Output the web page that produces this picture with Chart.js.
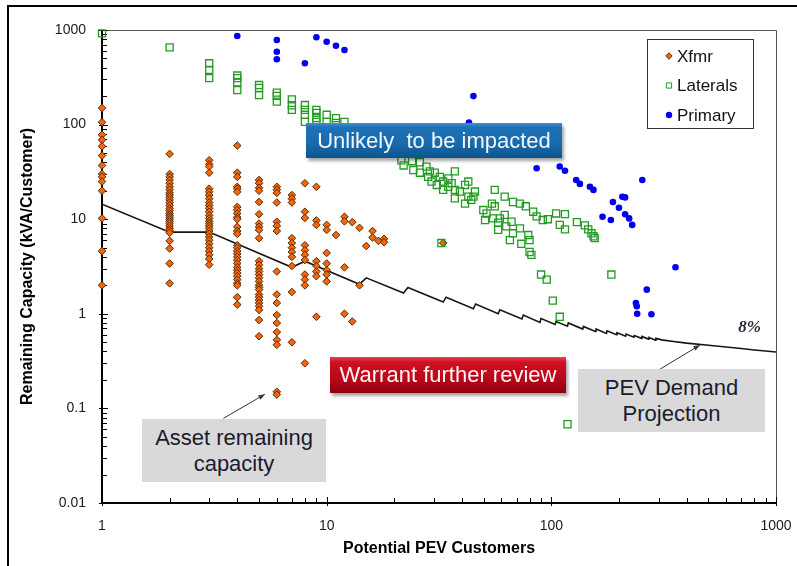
<!DOCTYPE html>
<html>
<head>
<meta charset="utf-8">
<script src="https://cdn.jsdelivr.net/npm/chart.js@4.4.1/dist/chart.umd.min.js"></script>
<style>
  body { margin: 0; background: #fff; }
  #wrap { position: relative; width: 797px; height: 566px; overflow: hidden; font-family: "Liberation Sans", Arial, sans-serif; }
  #frame { position: absolute; left: 7px; top: 5px; width: 820px; height: 600px; border-left: 2px solid #000; border-top: 2px solid #000; }
  .box { position: absolute; display: flex; align-items: center; justify-content: center; text-align: center; font-size: 22px; line-height: 26px; box-sizing: border-box; }
  .blue { left: 306px; top: 123px; width: 256px; height: 35px; color: #f2f6fa; white-space: pre;
          background: linear-gradient(#3f93d3 0%, #1f72b6 12%, #176aac 60%, #0d5490 100%);
          box-shadow: 2px 3px 3px rgba(0,0,0,0.35); }
  .red { left: 330px; top: 357px; width: 236px; height: 36px; color: #fff5f5;
         background: linear-gradient(#ec4450 0%, #cf1022 14%, #b8091a 60%, #8c0012 100%);
         box-shadow: 2px 3px 3px rgba(0,0,0,0.35); }
  .gray { background: #d9d9d9; color: #1b1b2e; }
  .asset { left: 142px; top: 419px; width: 184px; height: 63px; }
  .pev { left: 578px; top: 369px; width: 187px; height: 63px; }
</style>
</head>
<body>
<div id="wrap">
  <canvas id="capacity" width="797" height="566"></canvas>
  <div id="frame"></div>
  <div class="box blue">Unlikely  to be impacted</div>
  <div class="box red">Warrant further review</div>
  <div class="box gray asset">Asset remaining<br>capacity</div>
  <div class="box gray pev">PEV Demand<br>Projection</div>
</div>
<script>
// transformer columns: customers and remaining capacity values read per column
const xfmrN = [1, 2, 3, 4, 5, 6, 7, 8, 9, 10, 11, 12, 13, 14, 15, 16, 17, 18, 33];
const xfmrCap = [
  [150, 106, 78, 69, 59, 47, 37, 30, 28, 25, 20, 10.2, 4.6, 2.0],
  [49, 30, 28, 26, 24, 22, 20.5, 19, 18, 17, 16, 15, 14, 13, 12.3, 11.5, 11, 10.5, 10, 9.5, 9, 8.5, 8, 7.6, 7.2, 5.9, 4.9, 3.4, 2.1],
  [42, 38, 36, 31, 21, 19.5, 18, 16.5, 15, 14, 13, 12, 11, 10.2, 9.5, 9, 8.5, 8, 7.5, 7, 6.5, 6, 5.5, 5, 4.6, 4.2, 3.8, 3.3],
  [60, 31, 28, 22, 21, 19.5, 13.5, 12.5, 11.5, 10.5, 10, 8.3, 7.5, 7, 5.3, 5, 4.6, 4.3, 4, 3.7, 3.4, 3.1, 2.9, 2.7, 2.5, 2.3, 2.1, 2.0, 1.5, 1.25],
  [26, 24, 21.5, 20, 15.2, 11.3, 9, 8.3, 7.7, 6.3, 3.6, 3.3, 3.0, 2.8, 2.6, 2.4, 2.2, 2.0, 1.9, 1.8, 1.6, 1.5, 1.4, 1.3, 1.2, 1.1, 0.86, 0.58],
  [22, 20.5, 19, 15, 9.4, 8.5, 7.5, 2.8, 1.6, 1.3, 0.97, 0.8, 0.64, 0.53, 0.47, 0.15, 0.14],
  [18, 16.5, 15, 6.3, 5.6, 5, 4.5, 4, 3.2, 1.7, 0.5],
  [24, 12, 10.3, 5.3, 4.7, 4.2, 3.7, 2.6, 2.3, 2.0, 0.3],
  [22, 9.7, 8.7, 3.6, 3.2, 2.8, 2.5, 0.93],
  [8.7, 7.7, 4.4, 3.4, 2.9, 2.6, 2.2],
  [6.8],
  [10.6, 9.5, 3.1, 1.0],
  [9.3, 0.83],
  [8.1, 2.0],
  [5.2],
  [7.5, 6.4],
  [5.9],
  [6.2, 5.7],
  [5.6]
];

const lateralN = [1, 2, 3, 3, 3, 4, 4, 4, 4, 5, 5, 5, 6, 6, 6, 7, 7, 7, 8, 8, 8, 8, 9, 9, 9, 9, 10, 10, 11, 11, 12,
  21.5, 22, 24, 24.3, 26, 26, 27.8, 28.3, 28.8, 29.3, 30.3, 30.9, 31.9, 33, 33, 34.8, 34.8, 36, 37.2, 37.2, 37.2, 39.2,
  41.3, 41.3, 42.7, 42.7, 44, 45.7, 45, 32.4,
  49.8, 50.7, 51.5, 54.4, 55, 56, 56, 58, 59, 58, 62, 62, 63, 65.4, 66.5, 67.5, 67.5, 72.5, 72.5, 73.5, 77, 79, 80, 80,
  81.5, 83, 86, 91.6, 96.5, 105, 109, 115, 115, 130, 141, 146, 151, 154, 156,
  90, 95.4, 101.5, 109, 185, 118];
const lateralCap = [920, 656, 445, 378, 310, 330, 310, 280, 232, 262, 244, 205, 218, 201, 175, 185, 160, 143, 161, 143, 127, 107, 143, 133, 117, 107, 127, 107, 117, 104, 107,
  42, 37, 41, 33, 40, 31, 36, 28, 32, 25, 31, 23, 28, 25, 20.4, 27, 22, 24, 32, 20.4, 16.6, 19.6,
  23, 14.6, 25, 17.3, 16, 19.6, 17.3, 5.6,
  12.5, 9.8, 11.5, 14.6, 10.2, 20.4, 13.7, 9.2, 10.2, 7.7, 17.3, 11.1, 8.4, 6.0, 9.4, 15.2, 7.1, 14.6, 8.0, 5.5, 13.7, 6.8, 6.0, 4.5,
  4.2, 12, 10.7, 9.8, 10, 11.5, 8.7, 11.3, 7.8, 9.3, 8.6, 7.8, 7.1, 6.6, 6.3,
  2.6, 2.3, 1.38, 0.93, 2.6, 0.068];

const primaryN = [4, 6, 6, 6, 8, 9, 10, 11, 12, 45, 43, 86, 109, 115, 129, 134, 148.5, 154, 188, 207, 213, 200, 169, 184,
  213, 222, 229, 254, 357, 266, 238, 240, 241, 279];
const primaryCap = [865, 783, 590, 490, 445, 837, 750, 682, 615, 200, 105, 34.5, 36, 32.5, 26, 23.6, 22, 20.4, 15.2, 17.3, 17, 13.2, 10.6, 9.8,
  11.3, 10.2, 8.7, 26, 3.1, 1.8, 1.3, 1.2, 1.0, 0.99];

// PEV demand projection (8%), vertices of the saw-tooth curve
const pevN = [1, 2, 3, 7, 8, 14, 15, 22, 23, 33, 34, 45, 46, 58, 59, 74, 75, 89, 90, 104, 105, 118, 119, 138, 139,
  157, 158, 176, 177, 195, 196, 214, 215, 233, 234, 252, 253, 271, 272, 291, 292, 310, 350, 400, 500, 600, 700, 800, 900, 1000];
const pevCap = [14.4, 7.3, 7.3, 3.1, 3.6, 2.05, 2.4, 1.66, 1.9, 1.33, 1.5, 1.13, 1.27, 1.0, 1.1, 0.88, 0.97, 0.81, 0.89, 0.77, 0.83, 0.74, 0.80, 0.69, 0.735,
  0.65, 0.69, 0.62, 0.66, 0.60, 0.63, 0.58, 0.61, 0.565, 0.59, 0.55, 0.575, 0.54, 0.563, 0.527, 0.55, 0.53, 0.51, 0.49, 0.465, 0.445, 0.43, 0.415, 0.404, 0.394];

const xLabels = [1, 10, 100, 1000];
const yLabels = [0.01, 0.1, 1, 10, 100, 1000];
const minorSteps = [2, 3, 4, 5, 6, 7, 8, 9];

const font = '"Liberation Sans", Arial, sans-serif';
Chart.defaults.font.family = font;

const xfmrPoints = [];
xfmrN.forEach((n, i) => xfmrCap[i].forEach(v => xfmrPoints.push({x: n, y: v})));
const toPoints = (xs, ys) => xs.map((v, i) => ({x: v, y: ys[i]}));

// axes frame with inward tick marks
const axisFrame = {
  id: 'axisFrame',
  beforeDatasetsDraw(chart) {
    const {ctx, chartArea: a, scales: {x, y}} = chart;
    ctx.save();
    ctx.strokeStyle = '#555';
    ctx.lineWidth = 1;
    ctx.beginPath();
    ctx.moveTo(a.left, a.top + 0.5);
    ctx.lineTo(a.right + 0.5, a.top + 0.5);
    ctx.lineTo(a.right + 0.5, a.bottom);
    ctx.stroke();

    ctx.strokeStyle = '#000';
    ctx.lineWidth = 1;
    ctx.beginPath();
    yLabels.forEach(d => {
      const py = Math.round(y.getPixelForValue(d)) + 0.5;
      ctx.moveTo(a.left - 3, py); ctx.lineTo(a.left + 6, py);
      if (d < 1000) minorSteps.forEach(m => {
        const p = Math.round(y.getPixelForValue(d * m)) + 0.5;
        ctx.moveTo(a.left, p); ctx.lineTo(a.left + 5, p);
      });
    });
    xLabels.forEach(d => {
      const px = Math.round(x.getPixelForValue(d)) + 0.5;
      ctx.moveTo(px, a.bottom + 3); ctx.lineTo(px, a.bottom - 6);
      if (d < 1000) minorSteps.forEach(m => {
        const p = Math.round(x.getPixelForValue(d * m)) + 0.5;
        ctx.moveTo(p, a.bottom); ctx.lineTo(p, a.bottom - 5);
      });
    });
    ctx.stroke();

    ctx.lineWidth = 2;
    ctx.beginPath();
    ctx.moveTo(a.left, a.top);
    ctx.lineTo(a.left, a.bottom);
    ctx.lineTo(a.right + 1, a.bottom);
    ctx.stroke();
    ctx.restore();
  }
};

function drawMarker(ctx, style, cx, cy, r, fill, stroke, lw) {
  ctx.beginPath();
  if (style === 'rectRot') {
    ctx.moveTo(cx, cy - r); ctx.lineTo(cx + r, cy); ctx.lineTo(cx, cy + r); ctx.lineTo(cx - r, cy); ctx.closePath();
  } else if (style === 'rect') {
    ctx.rect(cx - r, cy - r, 2 * r, 2 * r);
  } else {
    ctx.arc(cx, cy, r, 0, Math.PI * 2);
  }
  ctx.fillStyle = fill; ctx.fill();
  if (lw) { ctx.lineWidth = lw; ctx.strokeStyle = stroke; ctx.stroke(); }
}

// legend box, annotation arrows and the 8% label
const extras = {
  id: 'extras',
  afterDatasetsDraw(chart) {
    const {ctx, chartArea: a, scales: {x, y}} = chart;
    ctx.save();
    const w = 106, h = 89, x0 = a.right - 23 - w, y0 = a.top + 9;
    ctx.fillStyle = '#fff';
    ctx.fillRect(x0, y0, w, h);
    ctx.strokeStyle = '#333';
    ctx.lineWidth = 1;
    ctx.strokeRect(x0 + 0.5, y0 + 0.5, w, h);
    const items = chart.data.datasets.filter(d => d.legend);
    items.sort((p, q) => p.legend - q.legend);
    items.forEach((d, i) => {
      const cy = y0 + 17 + i * 29.5;
      const r = d.pointStyle === 'rect' ? 2.6 : 3.2;
      drawMarker(ctx, d.pointStyle, x0 + 22, cy, r,
        d.pointStyle === 'rect' ? '#fff' : d.backgroundColor, d.borderColor, d.pointStyle === 'circle' ? 0 : 1);
      ctx.fillStyle = '#111';
      ctx.font = '17px ' + font;
      ctx.textBaseline = 'middle';
      ctx.fillText(d.label, x0 + 30, cy + 1);
    });

    const arrow = (n1, v1, n2, v2) => {
      const sx = x.getPixelForValue(n1), sy = y.getPixelForValue(v1);
      const ex = x.getPixelForValue(n2), ey = y.getPixelForValue(v2);
      const ang = Math.atan2(ey - sy, ex - sx);
      ctx.strokeStyle = '#333';
      ctx.fillStyle = '#333';
      ctx.lineWidth = 1;
      ctx.beginPath(); ctx.moveTo(sx, sy); ctx.lineTo(ex, ey); ctx.stroke();
      ctx.beginPath();
      ctx.moveTo(ex, ey);
      ctx.lineTo(ex - 7 * Math.cos(ang - 0.35), ey - 7 * Math.sin(ang - 0.35));
      ctx.lineTo(ex - 7 * Math.cos(ang + 0.35), ey - 7 * Math.sin(ang + 0.35));
      ctx.closePath(); ctx.fill();
    };
    arrow(3.47, 0.0785, 5.31, 0.141);
    arrow(304, 0.259, 459, 0.468);

    ctx.fillStyle = '#2a2a3a';
    ctx.font = 'italic bold 17px "Liberation Serif", "Times New Roman", serif';
    ctx.textAlign = 'center';
    ctx.textBaseline = 'middle';
    ctx.fillText('8%', x.getPixelForValue(762), y.getPixelForValue(0.716));
    ctx.restore();
  }
};

new Chart(document.getElementById('capacity'), {
  type: 'scatter',
  data: {
    datasets: [
      {
        label: 'Laterals',
        legend: 2,
        order: 1,
        clip: false,
        data: toPoints(lateralN, lateralCap),
        pointStyle: 'rect',
        pointRadius: 5,
        backgroundColor: 'rgba(255,255,255,0)',
        borderColor: '#239b23',
        borderWidth: 1.3
      },
      {
        label: 'Primary',
        legend: 3,
        order: 2,
        clip: false,
        data: toPoints(primaryN, primaryCap),
        pointStyle: 'circle',
        pointRadius: 3.3,
        backgroundColor: '#0000f0',
        borderColor: '#0000f0',
        borderWidth: 0
      },
      {
        label: 'Xfmr',
        legend: 1,
        order: 3,
        clip: false,
        data: xfmrPoints,
        pointStyle: 'rectRot',
        pointRadius: 3.8,
        backgroundColor: '#f2660c',
        borderColor: '#5a2a05',
        borderWidth: 1
      },
      {
        label: 'PEV Demand Projection',
        order: 4,
        data: toPoints(pevN, pevCap),
        showLine: true,
        pointRadius: 0,
        borderColor: '#151515',
        borderWidth: 1.6,
        tension: 0
      }
    ]
  },
  options: {
    responsive: false,
    animation: false,
    events: [],
    layout: { padding: { top: 30, right: 21, left: 0, bottom: 0 } },
    plugins: { legend: { display: false }, tooltip: { enabled: false } },
    scales: {
      x: {
        type: 'logarithmic',
        min: 1,
        max: 1000,
        grid: { display: false, drawTicks: false },
        border: { display: false },
        afterBuildTicks: s => { s.ticks = xLabels.map(v => ({value: v})); },
        afterFit: s => { s.height = 63; s.paddingLeft = 0; s.paddingRight = 0; },
        ticks: { padding: 15, color: '#1a1a1a', font: { size: 14 }, callback: v => String(v), maxRotation: 0 },
        title: { display: true, text: 'Potential PEV Customers', color: '#000', font: { size: 16, weight: 'bold' }, padding: { top: 0, bottom: 8 } }
      },
      y: {
        type: 'logarithmic',
        min: 0.01,
        max: 1000,
        grid: { display: false, drawTicks: false },
        border: { display: false },
        afterBuildTicks: s => { s.ticks = yLabels.map(v => ({value: v})); },
        afterFit: s => { s.width = 102; s.paddingTop = 0; s.paddingBottom = 0; },
        ticks: { padding: 16, color: '#1a1a1a', font: { size: 14 }, callback: v => String(v) },
        title: { display: true, text: 'Remaining Capacity (kVA/Customer)', color: '#000', font: { size: 16, weight: 'bold' }, padding: { top: 18, bottom: 0 } }
      }
    }
  },
  plugins: [axisFrame, extras]
});
</script>
</body>
</html>
